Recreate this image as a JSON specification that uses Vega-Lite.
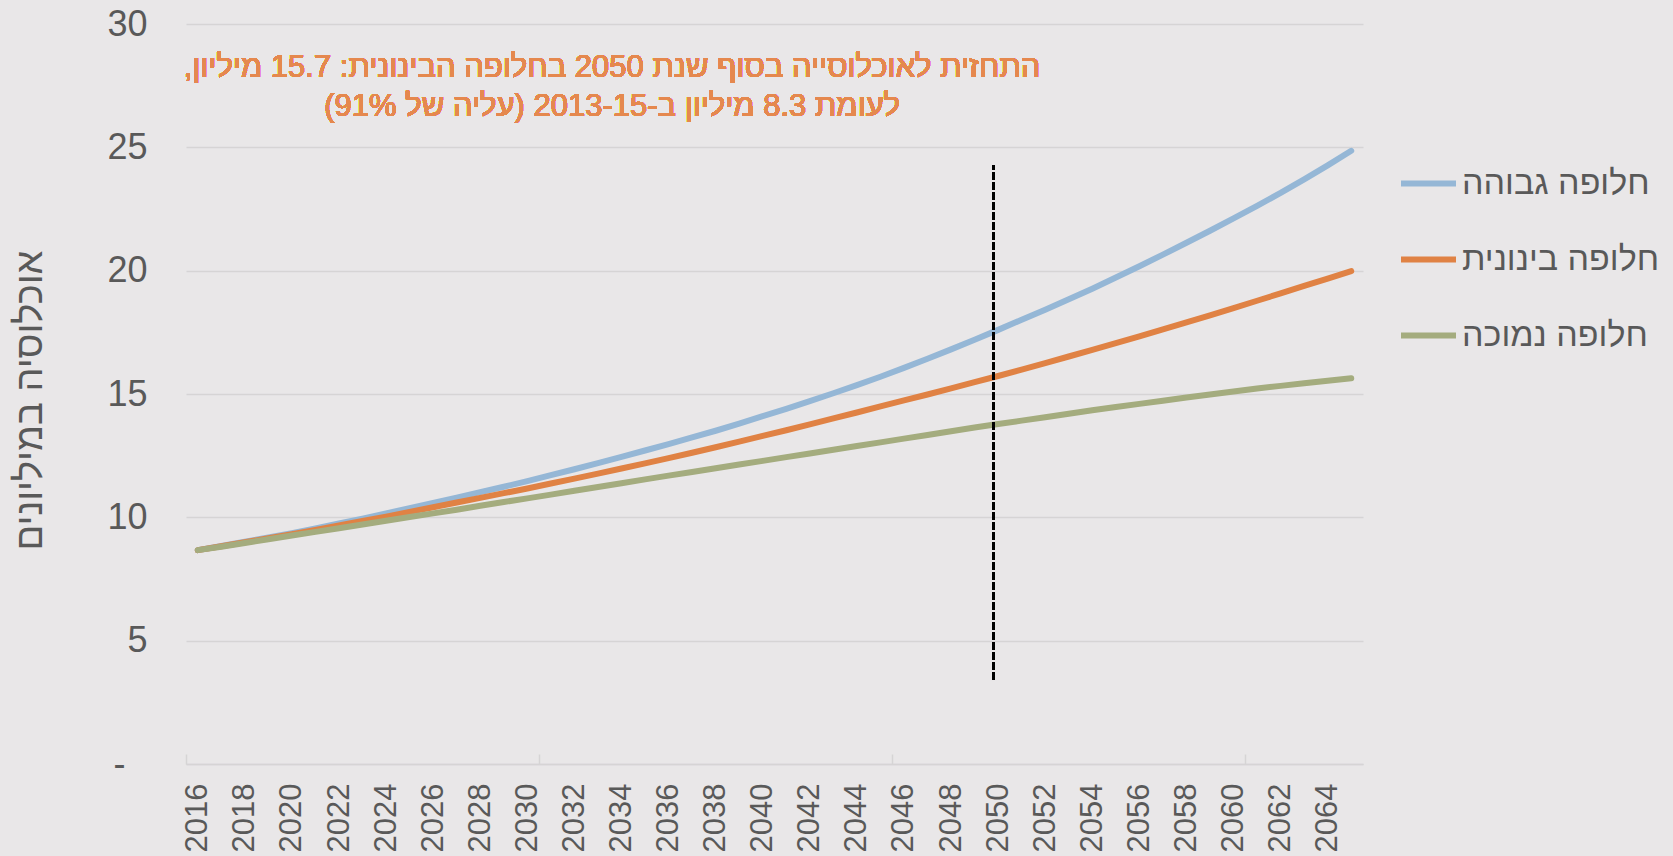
{
  "$schema": "https://vega.github.io/schema/vega-lite/v6.json",
  "width": 1177,
  "height": 740,
  "autosize": "none",
  "padding": {"left": 186, "top": 24, "right": 310, "bottom": 92},
  "background": "#e9e7e8",
  "config": {
    "view": {"stroke": null},
    "font": "Liberation Sans",
    "text": {"font": "Liberation Sans"}
  },
  "data": {"values": [
    {"year":2016,"s":"חלופה גבוהה","v":8.67},{"year":2016,"s":"חלופה בינונית","v":8.67},{"year":2016,"s":"חלופה נמוכה","v":8.67},
    {"year":2017,"s":"חלופה גבוהה","v":8.84},{"year":2017,"s":"חלופה בינונית","v":8.83},{"year":2017,"s":"חלופה נמוכה","v":8.81},
    {"year":2018,"s":"חלופה גבוהה","v":9.01},{"year":2018,"s":"חלופה בינונית","v":8.99},{"year":2018,"s":"חלופה נמוכה","v":8.96},
    {"year":2019,"s":"חלופה גבוהה","v":9.18},{"year":2019,"s":"חלופה בינונית","v":9.15},{"year":2019,"s":"חלופה נמוכה","v":9.11},
    {"year":2020,"s":"חלופה גבוהה","v":9.36},{"year":2020,"s":"חלופה בינונית","v":9.32},{"year":2020,"s":"חלופה נמוכה","v":9.26},
    {"year":2021,"s":"חלופה גבוהה","v":9.55},{"year":2021,"s":"חלופה בינונית","v":9.49},{"year":2021,"s":"חלופה נמוכה","v":9.41},
    {"year":2022,"s":"חלופה גבוהה","v":9.75},{"year":2022,"s":"חלופה בינונית","v":9.67},{"year":2022,"s":"חלופה נמוכה","v":9.56},
    {"year":2023,"s":"חלופה גבוהה","v":9.95},{"year":2023,"s":"חלופה בינונית","v":9.85},{"year":2023,"s":"חלופה נמוכה","v":9.71},
    {"year":2024,"s":"חלופה גבוהה","v":10.16},{"year":2024,"s":"חלופה בינונית","v":10.03},{"year":2024,"s":"חלופה נמוכה","v":9.86},
    {"year":2025,"s":"חלופה גבוהה","v":10.37},{"year":2025,"s":"חלופה בינונית","v":10.22},{"year":2025,"s":"חלופה נמוכה","v":10.01},
    {"year":2026,"s":"חלופה גבוהה","v":10.58},{"year":2026,"s":"חלופה בינונית","v":10.41},{"year":2026,"s":"חלופה נמוכה","v":10.16},
    {"year":2027,"s":"חלופה גבוהה","v":10.80},{"year":2027,"s":"חלופה בינונית","v":10.60},{"year":2027,"s":"חלופה נמוכה","v":10.31},
    {"year":2028,"s":"חלופה גבוהה","v":11.02},{"year":2028,"s":"חלופה בינונית","v":10.79},{"year":2028,"s":"חלופה נמוכה","v":10.47},
    {"year":2029,"s":"חלופה גבוהה","v":11.24},{"year":2029,"s":"חלופה בינונית","v":10.98},{"year":2029,"s":"חלופה נמוכה","v":10.62},
    {"year":2030,"s":"חלופה גבוהה","v":11.47},{"year":2030,"s":"חלופה בינונית","v":11.17},{"year":2030,"s":"חלופה נמוכה","v":10.77},
    {"year":2031,"s":"חלופה גבוהה","v":11.71},{"year":2031,"s":"חלופה בינונית","v":11.37},{"year":2031,"s":"חלופה נמוכה","v":10.92},
    {"year":2032,"s":"חלופה גבוהה","v":11.95},{"year":2032,"s":"חלופה בינונית","v":11.57},{"year":2032,"s":"חלופה נמוכה","v":11.08},
    {"year":2033,"s":"חלופה גבוהה","v":12.20},{"year":2033,"s":"חלופה בינונית","v":11.77},{"year":2033,"s":"חלופה נמוכה","v":11.23},
    {"year":2034,"s":"חלופה גבוהה","v":12.45},{"year":2034,"s":"חלופה בינונית","v":11.98},{"year":2034,"s":"חלופה נמוכה","v":11.38},
    {"year":2035,"s":"חלופה גבוהה","v":12.71},{"year":2035,"s":"חלופה בינונית","v":12.19},{"year":2035,"s":"חלופה נמוכה","v":11.54},
    {"year":2036,"s":"חלופה גבוהה","v":12.97},{"year":2036,"s":"חלופה בינונית","v":12.40},{"year":2036,"s":"חלופה נמוכה","v":11.69},
    {"year":2037,"s":"חלופה גבוהה","v":13.24},{"year":2037,"s":"חלופה בינונית","v":12.62},{"year":2037,"s":"חלופה נמוכה","v":11.84},
    {"year":2038,"s":"חלופה גבוהה","v":13.51},{"year":2038,"s":"חלופה בינונית","v":12.84},{"year":2038,"s":"חלופה נמוכה","v":11.99},
    {"year":2039,"s":"חלופה גבוהה","v":13.80},{"year":2039,"s":"חלופה בינונית","v":13.07},{"year":2039,"s":"חלופה נמוכה","v":12.14},
    {"year":2040,"s":"חלופה גבוהה","v":14.10},{"year":2040,"s":"חלופה בינונית","v":13.30},{"year":2040,"s":"חלופה נמוכה","v":12.29},
    {"year":2041,"s":"חלופה גבוהה","v":14.40},{"year":2041,"s":"חלופה בינונית","v":13.53},{"year":2041,"s":"חלופה נמוכה","v":12.44},
    {"year":2042,"s":"חלופה גבוהה","v":14.71},{"year":2042,"s":"חלופה בינונית","v":13.77},{"year":2042,"s":"חלופה נמוכה","v":12.59},
    {"year":2043,"s":"חלופה גבוהה","v":15.03},{"year":2043,"s":"חלופה בינונית","v":14.01},{"year":2043,"s":"חלופה נמוכה","v":12.74},
    {"year":2044,"s":"חלופה גבוהה","v":15.36},{"year":2044,"s":"חלופה בינונית","v":14.25},{"year":2044,"s":"חלופה נמוכה","v":12.89},
    {"year":2045,"s":"חלופה גבוהה","v":15.70},{"year":2045,"s":"חלופה בינונית","v":14.50},{"year":2045,"s":"חלופה נמוכה","v":13.04},
    {"year":2046,"s":"חלופה גבוהה","v":16.06},{"year":2046,"s":"חלופה בינונית","v":14.74},{"year":2046,"s":"חלופה נמוכה","v":13.19},
    {"year":2047,"s":"חלופה גבוהה","v":16.43},{"year":2047,"s":"חלופה בינונית","v":14.98},{"year":2047,"s":"חלופה נמוכה","v":13.34},
    {"year":2048,"s":"חלופה גבוהה","v":16.81},{"year":2048,"s":"חלופה בינונית","v":15.23},{"year":2048,"s":"חלופה נמוכה","v":13.49},
    {"year":2049,"s":"חלופה גבוהה","v":17.20},{"year":2049,"s":"חלופה בינונית","v":15.48},{"year":2049,"s":"חלופה נמוכה","v":13.64},
    {"year":2050,"s":"חלופה גבוהה","v":17.60},{"year":2050,"s":"חלופה בינונית","v":15.73},{"year":2050,"s":"חלופה נמוכה","v":13.78},
    {"year":2051,"s":"חלופה גבוהה","v":18.01},{"year":2051,"s":"חלופה בינונית","v":15.99},{"year":2051,"s":"חלופה נמוכה","v":13.92},
    {"year":2052,"s":"חלופה גבוהה","v":18.42},{"year":2052,"s":"חלופה בינונית","v":16.25},{"year":2052,"s":"חלופה נמוכה","v":14.06},
    {"year":2053,"s":"חלופה גבוהה","v":18.84},{"year":2053,"s":"חלופה בינונית","v":16.52},{"year":2053,"s":"חלופה נמוכה","v":14.20},
    {"year":2054,"s":"חלופה גבוהה","v":19.27},{"year":2054,"s":"חלופה בינונית","v":16.79},{"year":2054,"s":"חלופה נמוכה","v":14.34},
    {"year":2055,"s":"חלופה גבוהה","v":19.72},{"year":2055,"s":"חלופה בינונית","v":17.06},{"year":2055,"s":"חלופה נמוכה","v":14.47},
    {"year":2056,"s":"חלופה גבוהה","v":20.18},{"year":2056,"s":"חלופה בינונית","v":17.34},{"year":2056,"s":"חלופה נמוכה","v":14.60},
    {"year":2057,"s":"חלופה גבוהה","v":20.65},{"year":2057,"s":"חלופה בינונית","v":17.62},{"year":2057,"s":"חלופה נמוכה","v":14.73},
    {"year":2058,"s":"חלופה גבוהה","v":21.13},{"year":2058,"s":"חלופה בינונית","v":17.90},{"year":2058,"s":"חלופה נמוכה","v":14.86},
    {"year":2059,"s":"חלופה גבוהה","v":21.62},{"year":2059,"s":"חלופה בינונית","v":18.19},{"year":2059,"s":"חלופה נמוכה","v":14.98},
    {"year":2060,"s":"חלופה גבוהה","v":22.12},{"year":2060,"s":"חלופה בינונית","v":18.48},{"year":2060,"s":"חלופה נמוכה","v":15.10},
    {"year":2061,"s":"חלופה גבוהה","v":22.63},{"year":2061,"s":"חלופה בינונית","v":18.78},{"year":2061,"s":"חלופה נמוכה","v":15.22},
    {"year":2062,"s":"חלופה גבוהה","v":23.15},{"year":2062,"s":"חלופה בינונית","v":19.08},{"year":2062,"s":"חלופה נמוכה","v":15.33},
    {"year":2063,"s":"חלופה גבוהה","v":23.70},{"year":2063,"s":"חלופה בינונית","v":19.38},{"year":2063,"s":"חלופה נמוכה","v":15.44},
    {"year":2064,"s":"חלופה גבוהה","v":24.27},{"year":2064,"s":"חלופה בינונית","v":19.68},{"year":2064,"s":"חלופה נמוכה","v":15.54},
    {"year":2065,"s":"חלופה גבוהה","v":24.86},{"year":2065,"s":"חלופה בינונית","v":19.98},{"year":2065,"s":"חלופה נמוכה","v":15.64}
  ]},
  "layer": [
    {
      "mark": {"type": "line", "strokeWidth": 6, "strokeCap": "round", "strokeJoin": "round"},
      "encoding": {
        "x": {
          "field": "year", "type": "quantitative",
          "scale": {"domain": [2015.5, 2065.5], "nice": false, "zero": false},
          "axis": {
            "orient": "bottom",
            "title": null,
            "values": [2016,2018,2020,2022,2024,2026,2028,2030,2032,2034,2036,2038,2040,2042,2044,2046,2048,2050,2052,2054,2056,2058,2060,2062,2064],
            "format": "d",
            "labelAngle": -90,
            "labelFontSize": 31,
            "labelColor": "#595959",
            "labelPadding": 19,
            "labelOverlap": false,
            "labelFlush": false,
            "ticks": false,
            "grid": false,
            "domain": true,
            "domainColor": "#d6d4d5",
            "domainWidth": 1.5
          }
        },
        "y": {
          "field": "v", "type": "quantitative",
          "scale": {"domain": [0, 30], "nice": false},
          "axis": {
            "title": "אוכלוסיה במיליונים",
            "titleFontSize": 38,
            "titleFontWeight": "normal",
            "titleColor": "#595959",
            "titleAngle": -90,
            "titleAlign": "center",
            "titleBaseline": "middle",
            "titleX": -156,
            "titleY": 376,
            "values": [0, 5, 10, 15, 20, 25, 30],
            "labelExpr": "datum.value == 0 ? '-' : datum.label",
            "labelFontSize": 36,
            "labelColor": "#595959",
            "labelPadding": {"condition": {"test": "datum.value == 0", "value": 61}, "value": 39},
            "ticks": false,
            "domain": false,
            "grid": true,
            "gridColor": "#d6d4d5",
            "gridWidth": 1.5
          }
        },
        "color": {
          "field": "s", "type": "nominal",
          "scale": {
            "domain": ["חלופה גבוהה", "חלופה בינונית", "חלופה נמוכה"],
            "range": ["#95b7d6", "#e08244", "#a4ac7e"]
          },
          "legend": {
            "title": null,
            "orient": "none",
            "legendX": 1212,
            "legendY": 129,
            "symbolType": "stroke",
            "symbolSize": 3025,
            "symbolStrokeWidth": 6,
            "labelFontSize": 34,
            "labelColor": "#595959",
            "labelOffset": 3,
            "rowPadding": 28,
            "padding": 0,
            "labelLimit": 400
          }
        }
      }
    },
    {
      "mark": {"type": "rule", "color": "#000000", "strokeWidth": 2, "strokeDash": [7, 3]},
      "encoding": {
        "x": {
          "datum": 2049.8, "type": "quantitative",
          "axis": {
            "orient": "bottom",
            "title": null,
            "values": [2015.5, 2030.5, 2045.5, 2060.5],
            "labels": false,
            "grid": false,
            "domain": false,
            "ticks": true,
            "tickSize": -10,
            "tickColor": "#d6d4d5",
            "tickWidth": 1.5
          }
        },
        "y": {"datum": 3.42, "type": "quantitative"},
        "y2": {"datum": 24.25}
      }
    },
    {
      "mark": {
        "type": "text",
        "text": ["\u200fהתחזית לאוכלוסייה בסוף שנת 2050 בחלופה הבינונית: 15.7 מיליון,\u200f", "\u200fלעומת 8.3 מיליון ב-2013-15 (עליה של 91%)\u200f"],
        "align": "center",
        "baseline": "middle",
        "fontSize": 31,
        "fontWeight": "normal",
        "lineHeight": 38.6,
        "color": "#e5884e"
      },
      "encoding": {
        "x": {"datum": 2033.6, "type": "quantitative", "axis": null},
        "y": {"datum": 28.2, "type": "quantitative"}
      }
    }
  ],
  "resolve": {"axis": {"x": "independent"}}
}
